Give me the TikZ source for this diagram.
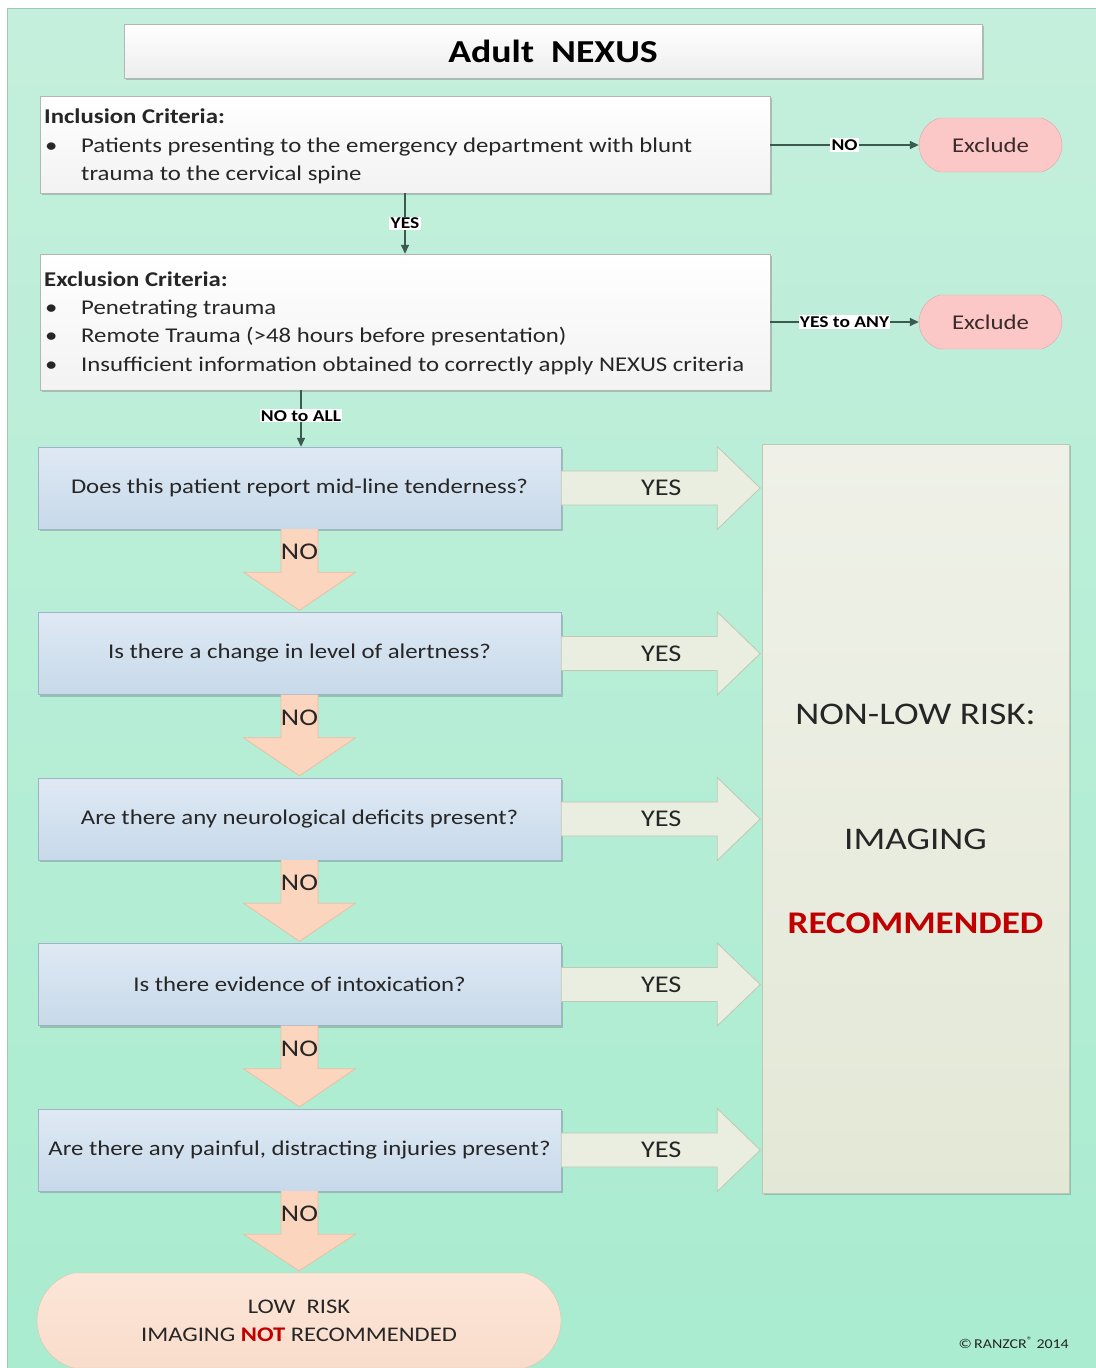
\documentclass[tikz,border=0pt]{standalone}
\usepackage{fontspec}
\setmainfont{Carlito}[FakeStretch=1.18]
\usetikzlibrary{arrows.meta,calc,shapes.misc,shadows}
\definecolor{bgtop}{HTML}{C4EFDC}
\definecolor{bgbot}{HTML}{A9ECD0}
\definecolor{bgline}{HTML}{9FC9B6}
\definecolor{txt}{HTML}{262626}
\definecolor{qtop}{HTML}{DFE9F4}
\definecolor{qbot}{HTML}{C7D9EA}
\definecolor{qline}{HTML}{9FB3C6}
\definecolor{wline}{HTML}{B5B5B5}
\definecolor{exfill}{HTML}{FBC7C7}
\definecolor{exline}{HTML}{E3A5A5}
\definecolor{extext}{HTML}{3A2A2A}
\definecolor{conncol}{HTML}{3D5A50}
\definecolor{yfill}{HTML}{EAEEE1}
\definecolor{yline}{HTML}{BFC8B5}
\definecolor{nfill}{HTML}{FBD5BE}
\definecolor{nline}{HTML}{E6C0A6}
\definecolor{lowtop}{HTML}{FCE6D8}
\definecolor{lowbot}{HTML}{F9DCCB}
\definecolor{rred}{HTML}{C00000}
\definecolor{nlrtop}{HTML}{EFF1E8}
\definecolor{nlrbot}{HTML}{E3E8D6}
\begin{document}
\begin{tikzpicture}[x=1pt,y=-1pt,
  every node/.style={text=txt},
  softshadow/.style={drop shadow={shadow xshift=2pt,shadow yshift=-2pt,opacity=0.18,fill=black}},
  titlebox/.style={draw=wline,top color=white,bottom color=black!7,minimum width=858,minimum height=54,inner sep=0,softshadow},
  critbox/.style={draw=wline,top color=white,bottom color=black!5,minimum width=730,inner sep=0,softshadow},
  qbox/.style={draw=qline,top color=qtop,bottom color=qbot,minimum width=523,minimum height=82,inner sep=0,softshadow,font=\fontsize{21}{24}\selectfont},
  exclpill/.style={rounded rectangle,rounded rectangle arc length=150,draw=exline,fill=exfill,minimum width=143,minimum height=54,inner sep=0,font=\fontsize{21}{24}\selectfont,text=extext},
  conn/.style={draw=conncol,line width=1.4pt,-{Triangle[length=9pt,width=8pt]}},
  lbl/.style={fill=white,inner sep=1.2pt,font=\bfseries\fontsize{16.5}{18}\selectfont,text=black},
  critline/.style={anchor=base west,inner sep=0,font=\fontsize{21}{24}\selectfont},
  yarrow/.style={draw=yline,fill=yfill,line width=0.8pt},
  narrow/.style={draw=nline,fill=nfill,line width=0.8pt},
  biglbl/.style={font=\fontsize{24}{28}\selectfont}]
\useasboundingbox (0,0) rectangle (1095,1368);
% background panel
\path[fill=white] (0,0) rectangle (1095,1368);
\path[top color=bgtop,bottom color=bgbot,draw=bgline,line width=1pt] (7,8) rectangle (1098,1372);

% title
\node[titlebox,font=\bfseries\fontsize{32}{36}\selectfont,text=black] (title) at (553,51) {Adult\ \ NEXUS};

% inclusion
\node[critbox,minimum height=97] (incl) at (405,144.5) {};
\node[critline,font=\bfseries\fontsize{21}{24}\selectfont] (inclh) at (44,123) {Inclusion Criteria:};
\node[critline] (inclb1) at (45,152) {\textbullet};
\node[critline] (incl1) at (81,152) {Patients presenting to the emergency department with blunt};
\node[critline] (incl2) at (81,180) {trauma to the cervical spine};

% exclusion
\node[critbox,minimum height=136] (excl) at (405,322) {};
\node[critline,font=\bfseries\fontsize{21}{24}\selectfont] (exclh) at (44,286) {Exclusion Criteria:};
\node[critline] (exclb1) at (45,314) {\textbullet};
\node[critline] (excl1) at (81,314) {Penetrating trauma};
\node[critline] (exclb2) at (45,342) {\textbullet};
\node[critline] (excl2) at (81,342) {Remote Trauma (>48 hours before presentation)};
\node[critline] (exclb3) at (45,371) {\textbullet};
\node[critline] (excl3) at (81,371) {Insufficient information obtained to correctly apply NEXUS criteria};

% exclude pills
\node[exclpill] (exA) at (990.5,145) {Exclude};
\node[exclpill] (exB) at (990.5,322) {Exclude};

% questions
\node[qbox] (q1) at (299.5,488) {Does this patient report mid-line tenderness?};
\node[qbox] (q2) at (299.5,653.5) {Is there a change in level of alertness?};
\node[qbox] (q3) at (299.5,819) {Are there any neurological deficits present?};
\node[qbox] (q4) at (299.5,984.5) {Is there evidence of intoxication?};
\node[qbox] (q5) at (299.5,1150) {Are there any painful, distracting injuries present?};

% non-low risk box
\node[draw=yline,top color=nlrtop,bottom color=nlrbot,minimum width=307,minimum height=749,inner sep=0,softshadow] (nlr) at (915.5,818.5) {};
\node[font=\fontsize{31.5}{38}\selectfont] (nlr1) at (915.5,714) {NON-LOW RISK:};
\node[font=\fontsize{31.5}{38}\selectfont] (nlr2) at (915.5,839) {IMAGING};
\node[font=\bfseries\fontsize{31.5}{38}\selectfont,text=rred] (nlr3) at (915.5,923) {RECOMMENDED};

% low risk
\node[rounded rectangle,rounded rectangle arc length=150,draw=nline,top color=lowtop,bottom color=lowbot,minimum width=524,minimum height=95,inner sep=0,align=center,font=\fontsize{20.8}{28}\selectfont] (low) at (299,1320.5) {LOW\ \ RISK\\IMAGING {\color{rred}\bfseries NOT} RECOMMENDED};

% thin connectors
\draw[conn] (incl.south) -- node[lbl]{YES} (excl.north);
\coordinate (nta) at ($(excl.south)+(-104,0)$);
\draw[conn] (nta) -- node[lbl,pos=0.45]{NO to ALL} (nta |- q1.north);
\draw[conn] (incl.east |- exA.west) -- node[lbl]{NO} (exA.west);
\draw[conn] (excl.east |- exB.west) -- node[lbl]{YES to ANY} (exB.west);

% YES block arrows
\foreach \q in {q1,q2,q3,q4,q5}{
  \draw[yarrow] ($(\q.east)+(0,-17)$) -- ($(\q.east)+(156,-17)$) -- ($(\q.east)+(156,-41.5)$)
     -- ($(\q.east)+(199,0)$) -- ($(\q.east)+(156,41.5)$) -- ($(\q.east)+(156,17)$)
     -- ($(\q.east)+(0,17)$) -- cycle;
  \node[biglbl] at ($(\q.east)+(100,0)$) {YES};
}
% NO block arrows
\foreach \a/\b in {q1/q2,q2/q3,q3/q4,q4/q5,q5/low}{
  \draw[narrow] ($(\a.south)+(-18.5,0)$) -- ($(\a.south)+(-18.5,43)$) -- ($(\a.south)+(-56,43)$)
     -- ($(\b.north)+(0,-2)$) -- ($(\a.south)+(56,43)$) -- ($(\a.south)+(18.5,43)$)
     -- ($(\a.south)+(18.5,0)$);
  \node[biglbl] at ($(\a.south)+(0,23)$) {NO};
}

% copyright
\node[anchor=east,inner sep=0,font=\fontsize{13.5}{15}\selectfont] (copy) at (1069,1343) {©\,RANZCR\textsuperscript{®} 2014};
\end{tikzpicture}
\end{document}
